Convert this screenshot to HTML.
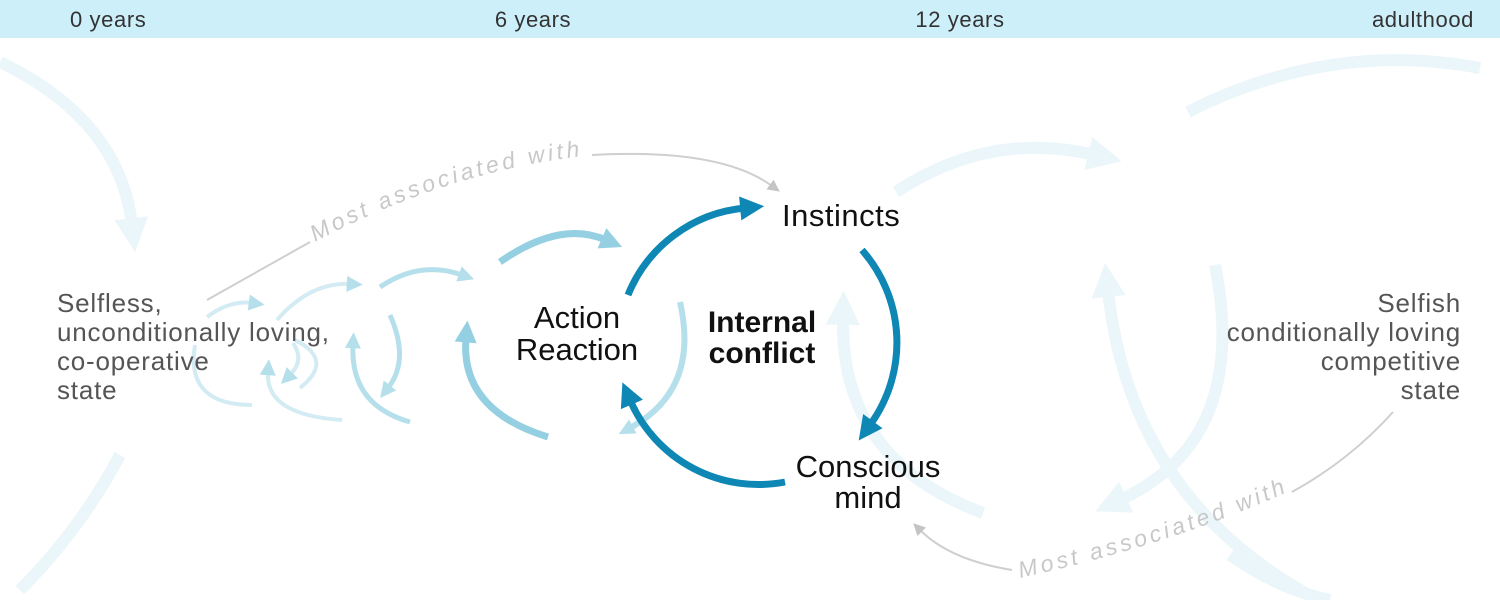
<!DOCTYPE html>
<html><head><meta charset="utf-8"><style>
body{margin:0;background:#fff;}
svg{display:block;font-family:"Liberation Sans",sans-serif;}
</style></head><body>
<svg width="1500" height="600" viewBox="0 0 1500 600" xmlns="http://www.w3.org/2000/svg">
<defs>
<marker id="mD" viewBox="0 0 10 10" refX="2" refY="5" markerWidth="32" markerHeight="24" markerUnits="userSpaceOnUse" orient="auto"><path d="M0,0 L10,5 L0,10 z" fill="#0e87b5"/></marker>
<marker id="mM" viewBox="0 0 10 10" refX="2" refY="5" markerWidth="28" markerHeight="22" markerUnits="userSpaceOnUse" orient="auto"><path d="M0,0 L10,5 L0,10 z" fill="#94cfe2"/></marker>
<marker id="mL" viewBox="0 0 10 10" refX="2" refY="5" markerWidth="20" markerHeight="16" markerUnits="userSpaceOnUse" orient="auto"><path d="M0,0 L10,5 L0,10 z" fill="#b6dfec"/></marker>
<marker id="mF" viewBox="0 0 10 10" refX="2" refY="5" markerWidth="44" markerHeight="34" markerUnits="userSpaceOnUse" orient="auto"><path d="M0,0 L10,5 L0,10 z" fill="#ebf6fa"/></marker>
<marker id="mG" viewBox="0 0 10 10" refX="2" refY="5" markerWidth="14" markerHeight="12" markerUnits="userSpaceOnUse" orient="auto"><path d="M0,0 L10,5 L0,10 z" fill="#c4c4c4"/></marker>
</defs>
<rect x="0" y="0" width="1500" height="38" fill="#cdeffa"/>
<g font-size="22" fill="#333" letter-spacing="0.6">
<text x="70" y="27">0 years</text>
<text x="533" y="27" text-anchor="middle">6 years</text>
<text x="960" y="27" text-anchor="middle">12 years</text>
<text x="1474" y="27" text-anchor="end">adulthood</text>
</g>
<g fill="none" stroke="#ebf6fa" stroke-width="12">
<path d="M 0 62 Q 120 120 132 225" marker-end="url(#mF)"/>
<path d="M 120 455 Q 80 530 20 590"/>
<path d="M 1188 112 Q 1330 40 1480 68"/>
<path d="M 1230 555 Q 1280 590 1330 600"/>
<path d="M 896 192 Q 990 130 1095 155" marker-end="url(#mF)"/>
<path d="M 1215 265 Q 1250 440 1120 500" marker-end="url(#mF)"/>
<path d="M 1318 600 Q 1130 500 1108 290" marker-end="url(#mF)"/>
<path d="M 983 513 Q 840 460 843 318" marker-end="url(#mF)"/>
</g>
<g fill="none" stroke="#d3ebf3" stroke-width="4">
<path d="M 207 317 Q 230 300 252 303" marker-end="url(#mL)"/>
<path d="M 252 405 Q 185 405 195 345"/>
<path d="M 293 343 Q 305 360 290 375" marker-end="url(#mL)"/>
<path d="M 277 320 Q 310 282 350 284" marker-end="url(#mL)"/>
<path d="M 342 420 Q 265 415 268 372" marker-end="url(#mL)"/>
<path d="M 295 340 Q 335 360 300 388"/>
</g>
<g fill="none" stroke="#b6dfec" stroke-width="5">
<path d="M 380 287 Q 420 260 462 275" marker-end="url(#mL)"/>
<path d="M 410 422 Q 350 405 353 345" marker-end="url(#mL)"/>
<path d="M 390 315 Q 410 360 388 388" marker-end="url(#mL)"/>
</g>
<g fill="none" stroke="#94cfe2" stroke-width="7">
<path d="M 500 262 Q 560 220 606 240" marker-end="url(#mM)"/>
<path d="M 548 437 Q 460 410 466 338" marker-end="url(#mM)"/>
</g>
<path d="M 680 302 Q 700 390 630 428" fill="none" stroke="#b6dfec" stroke-width="6" marker-end="url(#mL)"/>
<g fill="none" stroke="#0e87b5" stroke-width="7">
<path d="M 628 295 A 140 140 0 0 1 745 208" marker-end="url(#mD)"/>
<path d="M 862 250 A 140 140 0 0 1 870 425" marker-end="url(#mD)"/>
<path d="M 785 482 A 140 140 0 0 1 630 400" marker-end="url(#mD)"/>
</g>
<g fill="none" stroke="#cfcfcf" stroke-width="2">
<path d="M 207 300 L 310 242"/>
<path d="M 592 155 Q 720 148 772 186" marker-end="url(#mG)"/>
<path d="M 1393 412 Q 1350 460 1292 492"/>
<path d="M 1012 570 Q 950 560 920 530" marker-end="url(#mG)"/>
</g>
<path id="t1" d="M 315 242 Q 450 170 592 155" fill="none"/>
<path id="t2" d="M 1020 578 Q 1170 545 1292 490" fill="none"/>
<g font-size="23" font-style="italic" fill="#c8c8c8" letter-spacing="3.5">
<text><textPath href="#t1">Most associated with</textPath></text>
<text><textPath href="#t2">Most associated with</textPath></text>
</g>
<g font-size="31" fill="#111">
<text x="782" y="226" letter-spacing="0.5">Instincts</text>
<text x="577" y="328" text-anchor="middle">Action</text>
<text x="577" y="360" text-anchor="middle">Reaction</text>
<text x="868" y="477" text-anchor="middle">Conscious</text>
<text x="868" y="508" text-anchor="middle">mind</text>
</g>
<g font-size="30" font-weight="bold" fill="#111" text-anchor="middle">
<text x="762" y="332">Internal</text>
<text x="762" y="363">conflict</text>
</g>
<g font-size="26" fill="#555" letter-spacing="0.8">
<text x="57" y="312">Selfless,</text>
<text x="57" y="341">unconditionally loving,</text>
<text x="57" y="370">co-operative</text>
<text x="57" y="399">state</text>
</g>
<g font-size="26" fill="#555" text-anchor="end" letter-spacing="0.8">
<text x="1461" y="312">Selfish</text>
<text x="1461" y="341">conditionally loving</text>
<text x="1461" y="370">competitive</text>
<text x="1461" y="399">state</text>
</g>
</svg>
</body></html>
